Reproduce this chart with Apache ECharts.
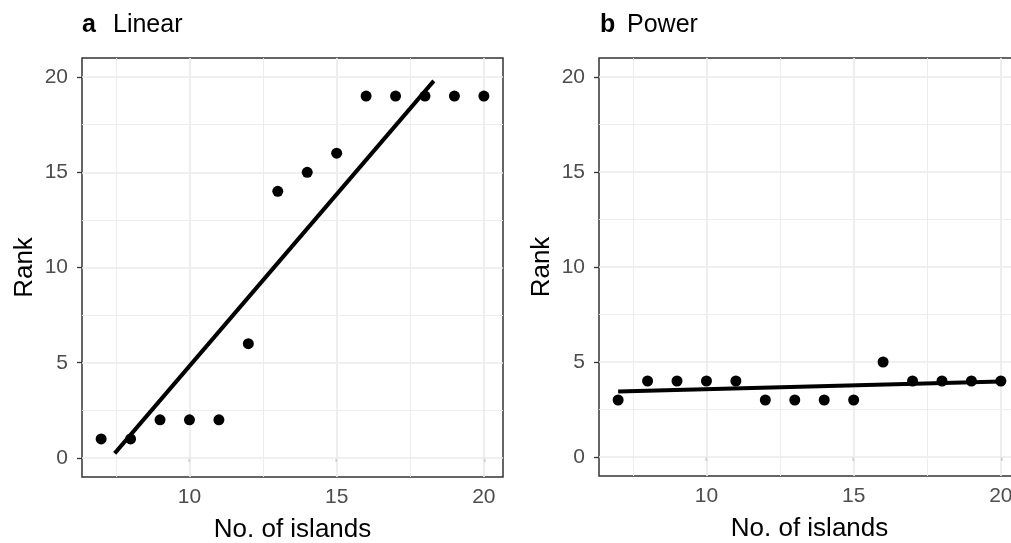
<!DOCTYPE html>
<html>
<head>
<meta charset="utf-8">
<script src="https://cdn.jsdelivr.net/npm/echarts@6/dist/echarts.min.js"></script>
<style>
  html, body { margin: 0; padding: 0; background: #fff; }
  #main { width: 1011px; height: 543px; }
</style>
</head>
<body>
<div id="main"></div>
<script>
// data
var islands = [7, 8, 9, 10, 11, 12, 13, 14, 15, 16, 17, 18, 19, 20];
var rankLinear = [1, 1, 2, 2, 2, 6, 14, 15, 16, 19, 19, 19, 19, 19];
var rankPower = [3, 4, 4, 4, 4, 3, 3, 3, 3, 5, 4, 4, 4, 4];
// fitted lines (end points, data units)
var fitLinear = [[7.46, 0.24], [18.3, 19.8]];
var fitPower = [[7.0, 3.45], [20.0, 3.98]];
// ticks
var xTicks = [10, 15, 20];
var xMinor = [7.5, 12.5, 17.5];
var yTicks = [0, 5, 10, 15, 20];
var yMinor = [2.5, 7.5, 12.5, 17.5];
var panelTitles = ['Linear', 'Power'];
var panelLetters = ['a', 'b'];

var chart = echarts.init(document.getElementById('main'));
var FONT = 'Liberation Sans';

function pairs(xs, ys) {
    var out = [];
    for (var i = 0; i < xs.length; i++) out.push([xs[i], ys[i]]);
    return out;
}

// panel grid lines, major + minor (theme_bw look)
function gridLines(idx) {
    var d = [];
    xMinor.forEach(function (v) { d.push({ xAxis: v, lineStyle: { width: 0.9 } }); });
    yMinor.forEach(function (v) { d.push({ yAxis: v, lineStyle: { width: 0.9 } }); });
    xTicks.forEach(function (v) { d.push({ xAxis: v, lineStyle: { width: 1.7 } }); });
    yTicks.forEach(function (v) { d.push({ yAxis: v, lineStyle: { width: 1.7 } }); });
    return {
        type: 'line', xAxisIndex: idx, yAxisIndex: idx, data: [], z: 1, silent: true,
        markLine: {
            z: 1, silent: true, symbol: ['none', 'none'], label: { show: false },
            lineStyle: { color: '#EBEBEB', type: 'solid' },
            animation: false,
            data: d
        }
    };
}

function xAxisOf(idx) {
    return {
        gridIndex: idx, type: 'value', min: 6.35, max: 20.65,
        name: 'No. of islands', nameLocation: 'middle', nameGap: 40,
        nameTextStyle: { fontFamily: FONT, fontSize: 26, color: '#000' },
        axisLine: { show: false },
        axisTick: { show: true, customValues: xTicks, length: 4, lineStyle: { color: '#333', width: 1.3 } },
        axisLabel: { customValues: xTicks, fontFamily: FONT, fontSize: 21, color: '#4D4D4D', margin: 10 },
        splitLine: { show: false }
    };
}

function yAxisOf(idx) {
    return {
        gridIndex: idx, type: 'value', min: -1, max: 21,
        name: 'Rank', nameLocation: 'middle', nameGap: 44, nameRotate: 90,
        nameTextStyle: { fontFamily: FONT, fontSize: 26, color: '#000' },
        axisLine: { show: false },
        axisTick: { show: true, customValues: yTicks, length: 5, lineStyle: { color: '#333', width: 1.3 } },
        axisLabel: { customValues: yTicks, fontFamily: FONT, fontSize: 21, color: '#4D4D4D', margin: 14 },
        splitLine: { show: false }
    };
}

function titleOf(i, left, letterWidth) {
    return {
        left: left, top: 13, padding: 0,
        text: '{b|' + panelLetters[i] + '}{n|' + panelTitles[i] + '}',
        textStyle: {
            fontWeight: 'normal',
            rich: {
                b: { fontFamily: FONT, fontSize: 25, fontWeight: 'bold', color: '#000', width: letterWidth },
                n: { fontFamily: FONT, fontSize: 25, fontWeight: 'normal', color: '#000' }
            }
        }
    };
}

chart.setOption({
    animation: false,
    backgroundColor: '#fff',
    title: [titleOf(0, 82, 31), titleOf(1, 600, 27)],
    grid: [
        { left: 82, top: 58, width: 421, height: 419, show: true, borderColor: '#333', borderWidth: 1.5,
          backgroundColor: '#fff', containLabel: false, outerBoundsMode: 'none' },
        { left: 599, top: 58, width: 421, height: 418, show: true, borderColor: '#333', borderWidth: 1.5,
          backgroundColor: '#fff', containLabel: false, outerBoundsMode: 'none' }
    ],
    xAxis: [xAxisOf(0), xAxisOf(1)],
    yAxis: [yAxisOf(0), yAxisOf(1)],
    series: [
        gridLines(0),
        gridLines(1),
        {
            type: 'scatter', xAxisIndex: 0, yAxisIndex: 0, z: 3,
            symbolSize: 11, itemStyle: { color: '#000', opacity: 1 },
            data: pairs(islands, rankLinear)
        },
        {
            type: 'line', xAxisIndex: 0, yAxisIndex: 0, z: 4,
            showSymbol: false, lineStyle: { color: '#000', width: 4 },
            data: fitLinear
        },
        {
            type: 'scatter', xAxisIndex: 1, yAxisIndex: 1, z: 3,
            symbolSize: 11, itemStyle: { color: '#000', opacity: 1 },
            data: pairs(islands, rankPower)
        },
        {
            type: 'line', xAxisIndex: 1, yAxisIndex: 1, z: 4,
            showSymbol: false, lineStyle: { color: '#000', width: 4 },
            data: fitPower
        }
    ]
});
</script>
</body>
</html>
